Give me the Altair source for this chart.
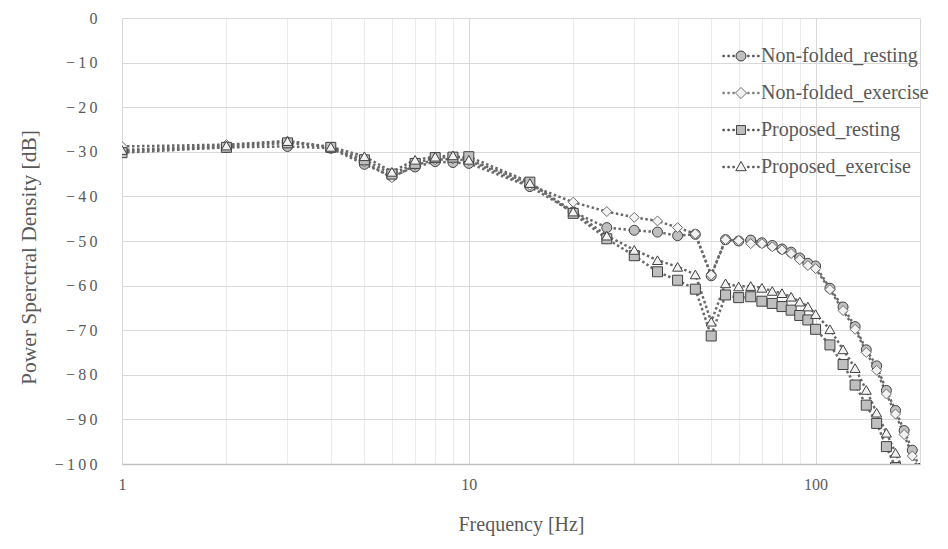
import altair as alt
import pandas as pd

# ---------------- data ----------------
freq = [1, 2, 3, 4, 5, 6, 7, 8, 9, 10, 15, 20, 25, 30, 35, 40, 45, 50, 55, 60,
        65, 70, 75, 80, 85, 90, 95, 100, 110, 120, 130, 140, 150, 160, 170, 180, 190, 200]

nf_rest = [-29.8, -29.0, -28.8, -29.2, -32.8, -35.5, -33.4, -32.2, -32.4, -32.6,
           -37.8, -43.5, -47.0, -47.6, -48.0, -48.8, -48.5, -57.8, -49.7, -50.0,
           -49.8, -50.4, -51.0, -51.8, -52.5, -53.8, -55.0, -55.6, -60.6, -64.8,
           -69.2, -74.4, -78.0, -83.5, -88.0, -92.5, -96.9, -101.0]

nf_ex = [-28.8, -28.4, -27.6, -29.0, -32.3, -35.8, -33.0, -31.8, -31.6, -32.0,
         -37.5, -41.3, -43.4, -44.7, -45.5, -47.0, -48.4, -57.6, -49.7, -49.9,
         -50.6, -50.6, -51.3, -52.0, -52.8, -54.2, -55.5, -56.2, -60.9, -65.6,
         -69.8, -75.0, -79.0, -84.3, -88.8, -93.4, -98.2, -102.0]

p_rest = [-30.2, -29.0, -28.0, -29.0, -31.8, -35.0, -32.6, -31.3, -31.2, -31.1,
          -36.8, -43.8, -49.5, -53.3, -56.9, -58.8, -60.8, -71.3, -62.1, -62.7,
          -62.5, -63.5, -64.0, -64.7, -65.5, -66.7, -67.7, -69.8, -73.3, -77.7,
          -82.3, -86.8, -90.9, -96.1, -100.8, -104.5, -108.0, -111.0]

p_ex = [-29.6, -28.6, -27.6, -28.9, -31.0, -34.5, -31.8, -31.1, -30.8, -31.8,
        -37.0, -43.4, -48.8, -52.0, -54.3, -55.8, -57.5, -68.1, -59.5, -60.2,
        -60.1, -60.5, -61.2, -61.7, -62.5, -63.6, -64.7, -66.4, -69.8, -74.3,
        -78.5, -83.4, -88.5, -93.0, -97.5, -102.0, -106.0, -110.0]

series_names = ["Non-folded_resting", "Non-folded_exercise",
                "Proposed_resting", "Proposed_exercise"]
series_values = [nf_rest, nf_ex, p_rest, p_ex]

grid_values = [1, 2, 3, 4, 5, 6, 7, 8, 9, 10, 20, 30, 40, 50, 60, 70, 80, 90, 100, 200]
y_ticks = [0, -10, -20, -30, -40, -50, -60, -70, -80, -90, -100]

# ---------------- styles ----------------
FONT = "Liberation Serif"
TXT = "#595959"
fills = ["#bfbfbf", "#f2f2f2", "#bfbfbf", "#f2f2f2"]
strokes = ["#404040", "#6e6e6e", "#404040", "#404040"]
shapes = ["circle", "diamond", "square", "triangle-up"]


def dots():
    out = ""
    for cx in [-0.94, -0.67, -0.40, 0.40, 0.67, 0.94]:
        out += f"M{cx - 0.04:.3f},-0.04h0.08v0.08h-0.08Z"
    return out


legend_paths = [
    dots() + "M0.27,0A0.27,0.27,0,1,1,-0.27,0A0.27,0.27,0,1,1,0.27,0Z",
    dots() + "M0,-0.3L0.3,0L0,0.3L-0.3,0Z",
    dots() + "M-0.24,-0.24H0.24V0.24H-0.24Z",
    dots() + "M0,-0.3L0.28,0.2L-0.28,0.2Z",
]

rows = []
for i, (name, vals) in enumerate(zip(series_names, series_values)):
    for f, v in zip(freq, vals):
        rows.append({"series": name, "ord": i, "freq": f, "psd": v})
df = pd.DataFrame(rows)

x_enc = alt.X(
    "freq:Q",
    scale=alt.Scale(type="log", domain=[1, 200], nice=False),
    axis=alt.Axis(
        title="Frequency [Hz]", values=grid_values,
        labelExpr="(datum.value == 1 || datum.value == 10 || datum.value == 100) ? datum.label : ''",
        format="d", labelOverlap=False, labelFlush=False,
        ticks=False, labelPadding=12, labelFont=FONT, labelFontSize=16, labelColor=TXT,
        titleFont=FONT, titleFontSize=20, titleFontWeight="normal", titleColor=TXT,
        titlePadding=22,
        domainColor="#bfbfbf", domainWidth=1.5,
        gridColor={"condition": {"test": "datum.value == 1 || datum.value == 10 || datum.value == 100 || datum.value == 200",
                                 "value": "#d9d9d9"}, "value": "#ebebeb"},
        gridWidth=1,
    ),
)
y_enc = alt.Y(
    "psd:Q",
    scale=alt.Scale(domain=[-100, 0], nice=False, zero=False),
    axis=alt.Axis(
        title="Power Sperctral Density [dB]", values=y_ticks,
        labelExpr="join(split(datum.label, ''), '\u2009')",
        ticks=False, domain=False, labelPadding=25,
        labelFont=FONT, labelFontSize=16, labelColor=TXT,
        titleFont=FONT, titleFontSize=21.5, titleFontWeight="normal", titleColor=TXT,
        titlePadding=14, titleY=239,
        gridColor="#d9d9d9", gridWidth=1,
    ),
)

base = alt.Chart(df)

lines = base.mark_line(
    strokeDash=[2.5, 2.5], strokeWidth=2.5, color="#6a6a6a", clip=True
).encode(x=x_enc, y=y_enc, detail="series:N")

points = base.mark_point(
    filled=True, size=100, strokeWidth=1, opacity=1, clip=True
).encode(
    x=x_enc, y=y_enc,
    shape=alt.Shape("series:N", scale=alt.Scale(domain=series_names, range=shapes), legend=None),
    fill=alt.Fill("series:N", scale=alt.Scale(domain=series_names, range=fills), legend=None),
    stroke=alt.Stroke("series:N", scale=alt.Scale(domain=series_names, range=strokes), legend=None),
    order=alt.Order("ord:Q"),
)

leg = alt.Legend(
    title=None, orient="none", legendX=600, legendY=19, padding=0,
    symbolSize=1369, symbolStrokeWidth=1, symbolOpacity=1,
    labelFont=FONT, labelFontSize=20, labelColor=TXT, labelOffset=1,
    labelLimit=400, rowPadding=8,
)

legend_layer = base.mark_point(filled=True, opacity=1).transform_filter("false").encode(
    x=x_enc, y=y_enc,
    shape=alt.Shape("series:N", scale=alt.Scale(domain=series_names, range=legend_paths), legend=leg),
    fill=alt.Fill("series:N", scale=alt.Scale(domain=series_names, range=fills), legend=leg),
    stroke=alt.Stroke("series:N", scale=alt.Scale(domain=series_names, range=strokes), legend=leg),
)

chart = alt.layer(lines, points, legend_layer).resolve_scale(
    shape="independent", fill="independent", stroke="independent"
).properties(
    width=798, height=446,
    autosize=alt.AutoSizeParams(type="none"),
    padding={"left": 122, "top": 18, "right": 28, "bottom": 85},
    background="white",
).configure_view(stroke=None)

chart.save("out.html", embed_options={"renderer": "svg", "actions": False})
